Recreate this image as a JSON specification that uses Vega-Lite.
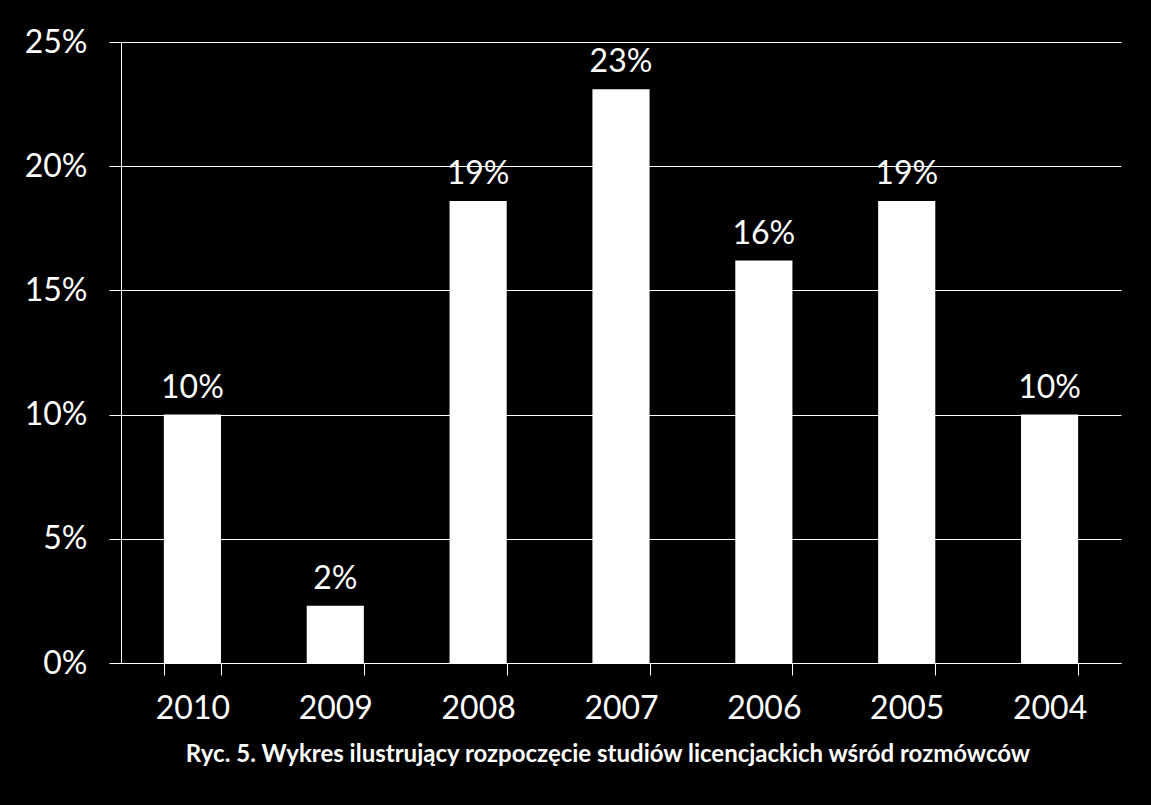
{
  "$schema": "https://vega.github.io/schema/vega-lite/v6.json",
  "width": 1000,
  "height": 621,
  "autosize": "none",
  "padding": {"left": 121, "top": 42, "right": 30, "bottom": 142},
  "background": "black",
  "config": {
    "view": {"stroke": null},
    "font": "Lato",
    "axis": {"labelFont": "Lato", "labelColor": "white", "labelFontSize": 32, "domainColor": "white", "tickColor": "white", "gridColor": "white", "gridOpacity": 1, "tickSize": 12, "domainWidth": 1, "tickWidth": 1, "gridWidth": 1, "title": null}
  },
  "title": {
    "text": "Ryc. 5. Wykres ilustrujący rozpoczęcie studiów licencjackich wśród rozmówców",
    "orient": "bottom",
    "anchor": "middle",
    "color": "white",
    "font": "Lato",
    "fontSize": 24,
    "fontWeight": "bold",
    "offset": 19,
    "dx": -13
  },
  "data": {
    "values": [
      {"year": "2010", "share": 0.10},
      {"year": "2009", "share": 0.023},
      {"year": "2008", "share": 0.186},
      {"year": "2007", "share": 0.231},
      {"year": "2006", "share": 0.162},
      {"year": "2005", "share": 0.186},
      {"year": "2004", "share": 0.10}
    ]
  },
  "encoding": {
    "x": {
      "field": "year",
      "type": "nominal",
      "sort": null,
      "scale": {"paddingInner": 0.6, "paddingOuter": 0.3},
      "axis": {"labelAngle": 0, "labelPadding": 18, "tickBand": "extent", "grid": false}
    },
    "y": {
      "field": "share",
      "type": "quantitative",
      "scale": {"domain": [0, 0.25], "nice": false},
      "axis": {"format": ".0%", "values": [0, 0.05, 0.1, 0.15, 0.2, 0.25], "labelPadding": 22, "grid": true}
    }
  },
  "layer": [
    {"mark": {"type": "bar", "color": "white"}},
    {
      "mark": {"type": "text", "color": "white", "fontSize": 32, "font": "Lato", "baseline": "bottom", "dy": -10},
      "encoding": {"text": {"field": "share", "type": "quantitative", "format": ".0%"}}
    }
  ]
}
